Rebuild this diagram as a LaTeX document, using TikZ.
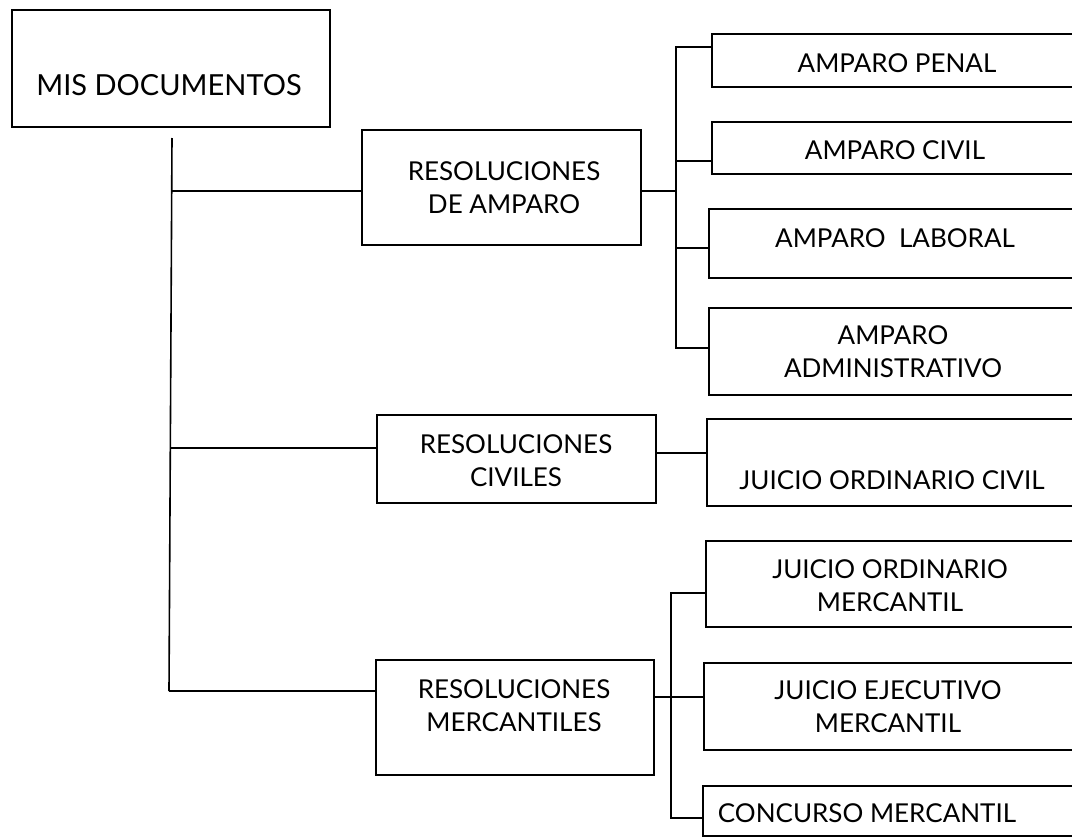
\documentclass[tikz,border=0pt]{standalone}
\usepackage{fontspec}
\setmainfont{Lato}
\begin{document}
\begin{tikzpicture}[x=1pt,y=-1pt,
  box/.style={draw=black,line width=1.6pt,inner sep=0pt,outer sep=0pt,anchor=north west},
  lbl/.style={font=\fontsize{26}{33}\selectfont,align=center,inner sep=0pt,text=black},
  wire/.style={draw=black,line width=1.6pt}]
\clip (0,0) rectangle (1072,838);
\fill[white] (0,0) rectangle (1072,838);
% boxes
\node[box,minimum width=318pt,minimum height=117pt] (mis) at (12,10) {};
\node[box,minimum width=279pt,minimum height=115pt] (amp) at (362,130) {};
\node[box,minimum width=279pt,minimum height=88pt] (civ) at (377,415) {};
\node[box,minimum width=278pt,minimum height=115pt] (mer) at (376,660) {};
\node[box,minimum width=380pt,minimum height=53pt] (pen) at (712,34) {};
\node[box,minimum width=380pt,minimum height=52pt] (aci) at (712,122) {};
\node[box,minimum width=383pt,minimum height=69pt] (lab) at (709,209) {};
\node[box,minimum width=383pt,minimum height=87pt] (adm) at (709,308) {};
\node[box,minimum width=385pt,minimum height=87pt] (joc) at (707,419) {};
\node[box,minimum width=386pt,minimum height=86pt] (jom) at (706,541) {};
\node[box,minimum width=388pt,minimum height=87pt] (jem) at (704,663) {};
\node[box,minimum width=389pt,minimum height=50pt] (con) at (703,786) {};
% labels
\node[lbl,font=\fontsize{29}{33}\selectfont] (tmis) at (169,85) {MIS DOCUMENTOS};
\node[lbl] (tamp) at (504,188) {RESOLUCIONES\\DE AMPARO};
\node[lbl] (tciv) at (516,461) {RESOLUCIONES\\CIVILES};
\node[lbl] (tmer) at (514,706) {RESOLUCIONES\\MERCANTILES};
\node[lbl] (tpen) at (897,63) {AMPARO PENAL};
\node[lbl] (taci) at (895,150) {AMPARO CIVIL};
\node[lbl] (tlab) at (895,238) {AMPARO\ \ LABORAL};
\node[lbl] (tadm) at (893,352) {AMPARO\\ADMINISTRATIVO};
\node[lbl] (tjoc) at (892,480) {JUICIO ORDINARIO CIVIL};
\node[lbl] (tjom) at (890,586) {JUICIO ORDINARIO\\MERCANTIL};
\node[lbl] (tjem) at (888,707) {JUICIO EJECUTIVO\\MERCANTIL};
\node[lbl] (tcon) at (867,813) {CONCURSO MERCANTIL};
% trunk
\coordinate (t0) at (172,138);
\coordinate (ja) at (171,191);
\coordinate (jc) at (170,448);
\coordinate (jm) at (169,691);
\draw[wire] (t0) -- (jm);
\draw[wire] (ja) -- (ja -| amp.west);
\draw[wire] (jc) -- (jc -| civ.west);
\draw[wire] (jm) -- (jm -| mer.west);
% amparo subtree
\coordinate (va) at (676,191);
\coordinate (a1) at (676,47);
\coordinate (a2) at (676,161);
\coordinate (a3) at (676,248);
\coordinate (a4) at (676,348);
\draw[wire] (va -| amp.east) -- (va);
\draw[wire] (a1 -| pen.west) -- (a1) -- (a4) -- (a4 -| adm.west);
\draw[wire] (a2) -- (a2 -| aci.west);
\draw[wire] (a3) -- (a3 -| lab.west);
% civil
\coordinate (vc) at (680,453);
\draw[wire] (vc -| civ.east) -- (vc -| joc.west);
% mercantil subtree
\coordinate (m1) at (671,593);
\coordinate (m2) at (671,697);
\coordinate (m3) at (671,818);
\draw[wire] (m1 -| jom.west) -- (m1) -- (m3) -- (m3 -| con.west);
\draw[wire] (m2 -| mer.east) -- (m2 -| jem.west);
\end{tikzpicture}
\end{document}
